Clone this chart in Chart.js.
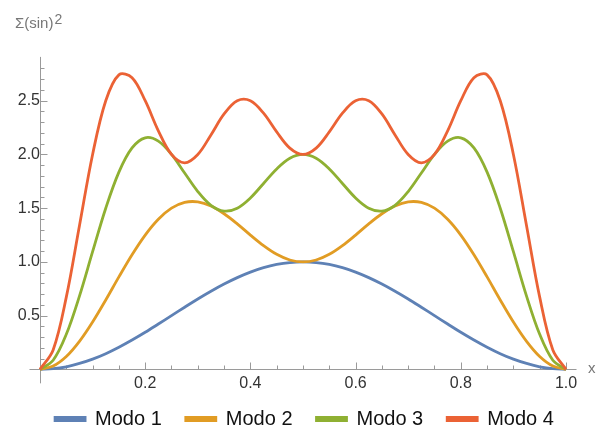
<!DOCTYPE html>
<html>
<head>
<meta charset="utf-8">
<script src="https://cdn.jsdelivr.net/npm/chart.js@4"></script>
<style>
  html, body { margin: 0; padding: 0; background: #fff; }
  #wrap { width: 597px; height: 433px; }
</style>
</head>
<body>
<div id="wrap"><canvas id="chart"></canvas></div>
<script>
// x positions of the sampled points
const xs = [0, 0.025, 0.05, 0.075, 0.1, 0.125, 0.15, 0.175, 0.2, 0.225, 0.25, 0.275, 0.3, 0.325, 0.35, 0.375, 0.4, 0.425, 0.45, 0.475, 0.5,
            0.525, 0.55, 0.575, 0.6, 0.625, 0.65, 0.675, 0.7, 0.725, 0.75, 0.775, 0.8, 0.825, 0.85, 0.875, 0.9, 0.925, 0.95, 0.975, 1];

const modo1 = [0, 0.006, 0.024, 0.055, 0.095, 0.146, 0.206, 0.273, 0.345, 0.422, 0.5, 0.578, 0.655, 0.727, 0.794, 0.854, 0.905, 0.946, 0.976, 0.994, 1,
               0.994, 0.976, 0.946, 0.905, 0.854, 0.794, 0.727, 0.655, 0.578, 0.5, 0.422, 0.345, 0.273, 0.206, 0.146, 0.095, 0.055, 0.024, 0.006, 0];
const modo2 = [0, 0.031, 0.120, 0.261, 0.441, 0.646, 0.861, 1.067, 1.250, 1.397, 1.5, 1.554, 1.559, 1.521, 1.448, 1.354, 1.250, 1.152, 1.071, 1.018, 1,
               1.018, 1.071, 1.152, 1.250, 1.354, 1.448, 1.521, 1.559, 1.554, 1.5, 1.397, 1.250, 1.067, 0.861, 0.646, 0.441, 0.261, 0.120, 0.031, 0];
const modo3 = [0, 0.085, 0.326, 0.682, 1.095, 1.5, 1.836, 2.061, 2.155, 2.124, 2.0, 1.827, 1.655, 1.527, 1.473, 1.5, 1.595, 1.730, 1.865, 1.964, 2,
               1.964, 1.865, 1.730, 1.595, 1.5, 1.473, 1.527, 1.655, 1.827, 2.0, 2.124, 2.155, 2.061, 1.836, 1.5, 1.095, 0.682, 0.326, 0.085, 0];
const modo4 = [0, 0.181, 0.672, 1.337, 2.0, 2.5, 2.741, 2.715, 2.5, 2.22, 2.0, 1.922, 2.0, 2.182, 2.377, 2.5, 2.5, 2.384, 2.21, 2.059, 2,
               2.059, 2.21, 2.384, 2.5, 2.5, 2.377, 2.182, 2.0, 1.922, 2.0, 2.22, 2.5, 2.715, 2.741, 2.5, 2.0, 1.337, 0.672, 0.181, 0];

const seriesNames = ['Modo 1', 'Modo 2', 'Modo 3', 'Modo 4'];
const seriesColors = ['#5E81B5', '#E19C24', '#8FB032', '#EB6235'];

// tick marks and labels
const xTickValues = [0.2, 0.4, 0.6, 0.8, 1.0];
const xTickLabels = ['0.2', '0.4', '0.6', '0.8', '1.0'];
const xMinorTicks = [0.05, 0.1, 0.15, 0.25, 0.3, 0.35, 0.45, 0.5, 0.55, 0.65, 0.7, 0.75, 0.85, 0.9, 0.95];
const yTickValues = [0.5, 1.0, 1.5, 2.0, 2.5];
const yTickLabels = ['0.5', '1.0', '1.5', '2.0', '2.5'];
const yMinorTicks = [0.1, 0.2, 0.3, 0.4, 0.6, 0.7, 0.8, 0.9, 1.1, 1.2, 1.3, 1.4, 1.6, 1.7, 1.8, 1.9, 2.1, 2.2, 2.3, 2.4, 2.6, 2.7, 2.8];

// where the drawn axis lines start and stop
const xAxisRange = [-0.02, 1.02];
const yAxisRange = [-0.13, 2.908];

const FONT = "'Liberation Sans', Arial, sans-serif";

const allSeries = [modo1, modo2, modo3, modo4];

// Mathematica style axes: lines through the origin, ticks pointing inward
const axesPlugin = {
    id: 'mmaAxes',
    beforeDatasetsDraw(chart) {
        const { ctx, scales: { x, y } } = chart;
        const x0 = Math.round(x.getPixelForValue(0)) + 0.5;
        const y0 = Math.round(y.getPixelForValue(0)) + 0.5;
        ctx.save();
        ctx.strokeStyle = '#9a9a9a';
        ctx.lineWidth = 1;
        ctx.beginPath();
        ctx.moveTo(x.getPixelForValue(xAxisRange[0]), y0);
        ctx.lineTo(x.getPixelForValue(xAxisRange[1]), y0);
        ctx.moveTo(x0, y.getPixelForValue(yAxisRange[1]));
        ctx.lineTo(x0, y.getPixelForValue(yAxisRange[0]));
        xTickValues.forEach(v => {
            const px = Math.round(x.getPixelForValue(v)) + 0.5;
            ctx.moveTo(px, y0);
            ctx.lineTo(px, y0 - 7);
        });
        xMinorTicks.forEach(v => {
            const px = Math.round(x.getPixelForValue(v)) + 0.5;
            ctx.moveTo(px, y0);
            ctx.lineTo(px, y0 - 4);
        });
        yTickValues.forEach(v => {
            const py = Math.round(y.getPixelForValue(v)) + 0.5;
            ctx.moveTo(x0, py);
            ctx.lineTo(x0 + 7, py);
        });
        yMinorTicks.forEach(v => {
            const py = Math.round(y.getPixelForValue(v)) + 0.5;
            ctx.moveTo(x0, py);
            ctx.lineTo(x0 + 4, py);
        });
        ctx.stroke();
        ctx.restore();
    },
    afterDraw(chart) {
        const { ctx, scales: { y } } = chart;
        const y0 = y.getPixelForValue(0);
        ctx.save();
        ctx.fillStyle = '#777';
        ctx.textBaseline = 'alphabetic';
        ctx.font = '15px ' + FONT;
        ctx.fillText('Σ(sin)', 15, 28);
        const w = ctx.measureText('Σ(sin)').width;
        ctx.font = '14px ' + FONT;
        ctx.fillText('2', 15 + w + 1, 24);
        ctx.font = '15px ' + FONT;
        ctx.textBaseline = 'middle';
        ctx.fillText('x', 588, y0 - 1);
        ctx.restore();
    }
};

const ctx = document.getElementById('chart').getContext('2d');
const chart = new Chart(ctx, {
    type: 'line',
    data: {
        datasets: allSeries.map((vals, i) => ({
            label: seriesNames[i],
            data: vals.map((v, j) => ({ x: xs[j], y: v })),
            borderColor: seriesColors[i],
            backgroundColor: seriesColors[i],
            borderWidth: 2.8,
            pointRadius: 0,
            tension: 0.35,
            order: 3 - i
        }))
    },
    options: {
        responsive: true,
        maintainAspectRatio: false,
        animation: false,
        layout: { padding: { left: 12, right: 0, top: 0, bottom: -6 } },
        scales: {
            x: {
                type: 'linear',
                min: -0.05323,
                max: 1.05894,
                position: { y: 0 },
                grid: { display: false, drawTicks: false },
                border: { display: false },
                afterBuildTicks: scale => { scale.ticks = xTickValues.map(v => ({ value: v })); },
                ticks: {
                    autoSkip: false,
                    maxRotation: 0,
                    padding: 5,
                    color: '#333',
                    font: { family: FONT, size: 16 },
                    callback: (value, index) => xTickLabels[index]
                }
            },
            y: {
                type: 'linear',
                min: -0.1455,
                max: 3.283,
                position: { x: 0 },
                grid: { display: false, drawTicks: false },
                border: { display: false },
                afterBuildTicks: scale => { scale.ticks = yTickValues.map(v => ({ value: v })); },
                ticks: {
                    autoSkip: false,
                    padding: 7,
                    color: '#333',
                    font: { family: FONT, size: 16 },
                    callback: (value, index) => yTickLabels[index]
                }
            }
        },
        plugins: {
            legend: {
                position: 'bottom',
                labels: {
                    boxWidth: 30,
                    boxHeight: 3,
                    padding: 24,
                    color: '#111',
                    font: { family: FONT, size: 20 },
                    sort: (a, b) => a.datasetIndex - b.datasetIndex
                }
            },
            tooltip: { enabled: false }
        }
    },
    plugins: [axesPlugin]
});
</script>
</body>
</html>
